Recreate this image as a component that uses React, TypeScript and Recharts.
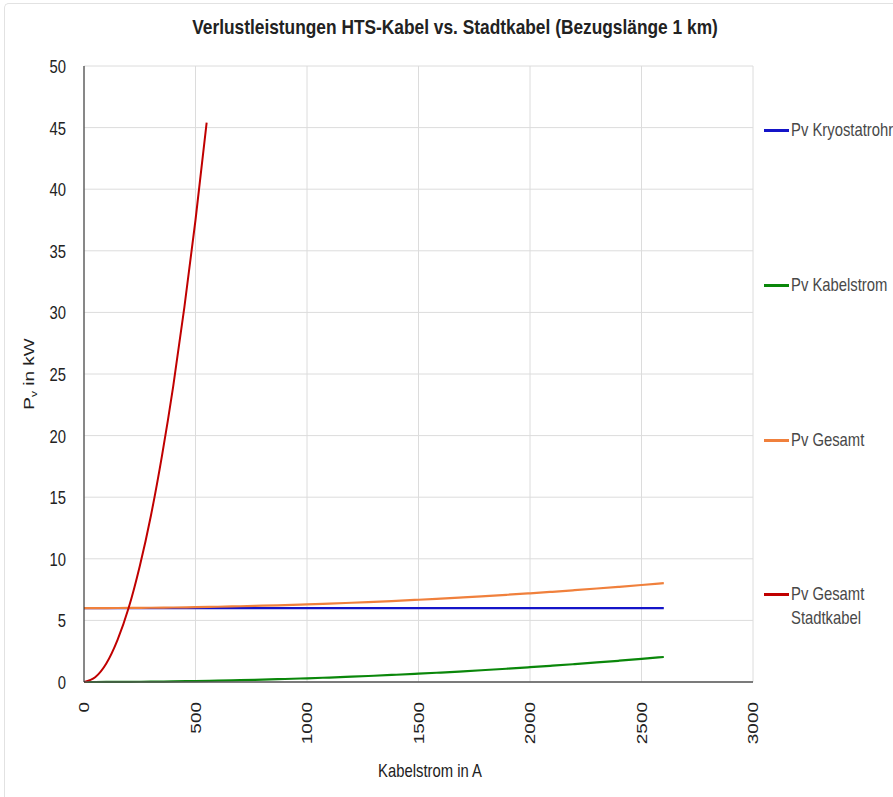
import { LineChart, Line, XAxis, YAxis, CartesianGrid } from "recharts";

// Kabelstrom in A (HTS-Kabel Kurven)
const currentA = [
  0, 100, 200, 300, 400, 500, 600, 700, 800, 900, 1000, 1100, 1200, 1300,
  1400, 1500, 1600, 1700, 1800, 1900, 2000, 2100, 2200, 2300, 2400, 2500, 2600,
];
const pvKryostatrohr = [
  6, 6, 6, 6, 6, 6, 6, 6, 6, 6, 6, 6, 6, 6, 6, 6, 6, 6, 6, 6, 6, 6, 6, 6, 6, 6, 6,
];
const pvKabelstrom = [
  0, 0.003, 0.012, 0.027, 0.048, 0.075, 0.108, 0.147, 0.192, 0.243, 0.3, 0.363,
  0.432, 0.507, 0.588, 0.675, 0.768, 0.867, 0.972, 1.083, 1.2, 1.323, 1.452,
  1.587, 1.728, 1.875, 2.03,
];
const pvGesamt = [
  6, 6.003, 6.012, 6.027, 6.048, 6.075, 6.108, 6.147, 6.192, 6.243, 6.3, 6.363,
  6.432, 6.507, 6.588, 6.675, 6.768, 6.867, 6.972, 7.083, 7.2, 7.323, 7.452,
  7.587, 7.728, 7.875, 8.03,
];

// Stadtkabel
const stadtCurrentA = [0, 50, 100, 150, 200, 250, 300, 350, 400, 450, 500, 550];
const pvStadtkabel = [0, 0.38, 1.5, 3.4, 6.0, 9.4, 13.5, 18.4, 24.0, 30.4, 37.5, 45.4];

const xTicks = [0, 500, 1000, 1500, 2000, 2500, 3000];
const yTicks = [0, 5, 10, 15, 20, 25, 30, 35, 40, 45, 50];

const legendItems = [
  { label: ["Pv Kryostatrohr"], color: "#1414c8", width: 3, top: 130 },
  { label: ["Pv Kabelstrom"], color: "#0a870a", width: 3, top: 285 },
  { label: ["Pv Gesamt"], color: "#f0803c", width: 3, top: 440 },
  { label: ["Pv Gesamt", "Stadtkabel"], color: "#c00000", width: 3, top: 594 },
];

const hts = currentA.map((a, i) => ({
  a,
  kryo: pvKryostatrohr[i],
  kabel: pvKabelstrom[i],
  gesamt: pvGesamt[i],
}));
const stadt = stadtCurrentA.map((a, i) => ({ a, stadt: pvStadtkabel[i] }));

const FONT = "'Liberation Sans', Arial, sans-serif";
const SQ = 0.78; // text in the reference is horizontally narrow

function XTick(props: any) {
  const { x, y, payload } = props;
  return (
    <text
      transform={`translate(${x} ${y + 12}) scale(${SQ} 1) rotate(-90)`}
      textAnchor="end"
      dy={7}
      fontSize={19}
      fill="#222"
      fontFamily={FONT}
    >
      {payload.value}
    </text>
  );
}

function YTick(props: any) {
  const { x, y, payload } = props;
  return (
    <text
      transform={`translate(${x - 10} ${y}) scale(${SQ} 1)`}
      textAnchor="end"
      dy={7}
      fontSize={19}
      fill="#222"
      fontFamily={FONT}
    >
      {payload.value}
    </text>
  );
}

export default function App() {
  return (
    <div
      style={{
        position: "absolute",
        left: 0,
        top: 0,
        width: 893,
        height: 797,
        background: "#fff",
        fontFamily: FONT,
        overflow: "hidden",
      }}
    >
      <div
        style={{
          position: "absolute",
          left: 4,
          top: 3,
          width: 900,
          height: 800,
          borderLeft: "1px solid #e2e2e2",
          borderTop: "1px solid #e2e2e2",
          borderTopLeftRadius: 5,
        }}
      />
      <div
        style={{
          position: "absolute",
          left: 455,
          top: 15,
          transform: "translateX(-50%) scaleX(0.825)",
          whiteSpace: "nowrap",
          fontWeight: "bold",
          fontSize: 21,
          color: "#222",
        }}
      >
        Verlustleistungen HTS-Kabel vs. Stadtkabel (Bezugslänge 1 km)
      </div>
      <LineChart
        width={893}
        height={797}
        margin={{ top: 66, right: 140, bottom: 65, left: 0 }}
      >
        <CartesianGrid stroke="#dcdcdc" />
        <XAxis
          type="number"
          dataKey="a"
          domain={[0, 3000]}
          ticks={xTicks}
          tick={<XTick />}
          tickLine={false}
          axisLine={{ stroke: "#555", strokeWidth: 1.5 }}
          height={50}
          allowDataOverflow
        />
        <YAxis
          type="number"
          domain={[0, 50]}
          ticks={yTicks}
          tickLine={false}
          axisLine={{ stroke: "#222" }}
          width={84}
          tick={<YTick />}
        />
        <Line
          data={hts}
          dataKey="kryo"
          type="monotone"
          stroke="#1414c8"
          strokeWidth={2.2}
          dot={false}
          isAnimationActive={false}
        />
        <Line
          data={hts}
          dataKey="kabel"
          type="monotone"
          stroke="#0a870a"
          strokeWidth={2.2}
          dot={false}
          isAnimationActive={false}
        />
        <Line
          data={hts}
          dataKey="gesamt"
          type="monotone"
          stroke="#f0803c"
          strokeWidth={2.2}
          dot={false}
          isAnimationActive={false}
        />
        <Line
          data={stadt}
          dataKey="stadt"
          type="monotone"
          stroke="#c00000"
          strokeWidth={2}
          dot={false}
          isAnimationActive={false}
        />
      </LineChart>
      <div
        style={{
          position: "absolute",
          left: 30,
          top: 374,
          transform: `translate(-50%, -50%) scaleX(${SQ}) rotate(-90deg)`,
          fontSize: 19,
          color: "#222",
          whiteSpace: "nowrap",
        }}
      >
        P<sub style={{ fontSize: 12 }}>v</sub> in kW
      </div>
      <div
        style={{
          position: "absolute",
          left: 430,
          top: 760,
          transform: `translateX(-50%) scaleX(${SQ})`,
          fontSize: 19,
          color: "#222",
          whiteSpace: "nowrap",
        }}
      >
        Kabelstrom in A
      </div>
      {legendItems.map((item) => (
        <div
          key={item.label.join(" ")}
          style={{ position: "absolute", left: 764, top: item.top - 12 }}
        >
          <div
            style={{
              position: "absolute",
              left: 0,
              top: 12 - item.width / 2,
              width: 25,
              height: item.width,
              background: item.color,
            }}
          />
          <div
            style={{
              position: "absolute",
              left: 27,
              top: 0,
              fontSize: 19,
              lineHeight: "24px",
              color: "#484848",
              whiteSpace: "nowrap",
              transform: `scaleX(${SQ})`,
              transformOrigin: "0 0",
            }}
          >
            {item.label.map((l) => (
              <div key={l}>{l}</div>
            ))}
          </div>
        </div>
      ))}
    </div>
  );
}
